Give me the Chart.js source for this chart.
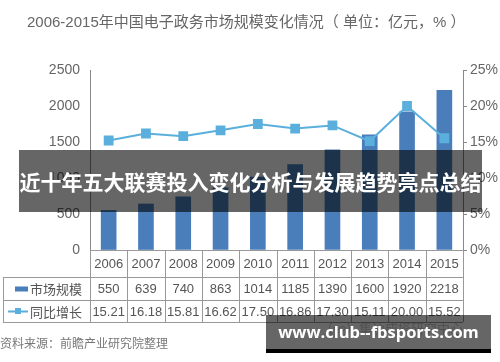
<!DOCTYPE html>
<html>
<head>
<meta charset="utf-8">
<script src="https://cdn.jsdelivr.net/npm/chart.js@4"></script>
<style>
  body { margin: 0; background: #fff; }
  #wrap { position: relative; width: 500px; height: 362px; overflow: hidden; font-family: "Liberation Sans", "Noto Sans CJK SC", sans-serif; }
  #titulo { position: absolute; left: 27px; top: 10px; font-size: 15px; color: #666; white-space: nowrap; }
  #fonte { position: absolute; left: 0; top: 334px; font-size: 12px; color: #777; white-space: nowrap; }
  #faixa { position: absolute; left: 19px; top: 150px; width: 463px; height: 62px; background: rgba(0,0,0,0.6);
    color: #fff; font-family: "Noto Sans CJK SC", sans-serif; font-weight: bold; font-size: 21px; line-height: 62px; text-align: center; white-space: nowrap; }
  #marca { position: absolute; left: 266px; top: 315px; width: 225px; height: 34px; background: rgba(0,0,0,0.6);
    border-bottom: 4px solid #000; color: #fff; font-family: "Open Sans", sans-serif; font-weight: bold; font-size: 16.5px; line-height: 34px; text-align: center; white-space: nowrap; }
  #marca2 { position: absolute; left: 320px; top: 318px; font-size: 13px; color: rgba(150,150,150,0.5); font-family: "Noto Sans CJK SC", sans-serif; }
</style>
</head>
<body>
<div id="wrap">
  <canvas id="grafico" width="500" height="362"></canvas>
  <div id="titulo">2006-2015年中国电子政务市场规模变化情况（ 单位：亿元，% ）</div>
  <div id="fonte">资料来源：前瞻产业研究院整理</div>
  <div id="marca2">（∽）集沙成塔研究中心</div>
  <div id="faixa">近十年五大联赛投入变化分析与发展趋势亮点总结</div>
  <div id="marca">www.club--fbsports.com</div>
</div>
<script>
const anos = ["2006","2007","2008","2009","2010","2011","2012","2013","2014","2015"];
const mercado = [550, 639, 740, 863, 1014, 1185, 1390, 1600, 1920, 2218];
const crescimento = [15.21, 16.18, 15.81, 16.62, 17.50, 16.86, 17.30, 15.11, 20.00, 15.52];
const nomeMercado = "市场规模";
const nomeCrescimento = "同比增长";

const COR_BARRA = "#4a7ebb";
const COR_LINHA = "#5aafdc";
const COR_TEXTO = "#555";
const COR_BORDA = "#999";

const tabela = {
  id: "tabela",
  afterDraw(chart) {
    const ctx = chart.ctx;
    const area = chart.chartArea;
    const x = chart.scales.x;
    const larg = (area.right - area.left) / anos.length;
    const y0 = area.bottom, y1 = 277, y2 = 300, y3 = 322, esq = 3;
    ctx.save();
    ctx.strokeStyle = COR_BORDA;
    ctx.lineWidth = 1;
    ctx.beginPath();
    ctx.moveTo(area.left, y0 + 0.5); ctx.lineTo(area.right, y0 + 0.5);
    [y1, y2, y3].forEach(function(yy) { ctx.moveTo(esq, yy + 0.5); ctx.lineTo(area.right, yy + 0.5); });
    ctx.moveTo(esq + 0.5, y1); ctx.lineTo(esq + 0.5, y3);
    for (let i = 0; i <= anos.length; i++) {
      const xx = Math.round(area.left + i * larg) + 0.5;
      ctx.moveTo(xx, y0); ctx.lineTo(xx, y3);
    }
    ctx.stroke();

    ctx.fillStyle = COR_TEXTO;
    ctx.font = "13px 'Liberation Sans', 'Noto Sans CJK SC', sans-serif";
    ctx.textAlign = "center";
    ctx.textBaseline = "middle";
    anos.forEach(function(a, i) {
      const cx = x.getPixelForValue(i);
      ctx.fillText(a, cx, (y0 + y1) / 2 + 1);
      ctx.fillText(String(mercado[i]), cx, (y1 + y2) / 2 + 1);
      ctx.fillText(crescimento[i].toFixed(2), cx, (y2 + y3) / 2 + 1);
    });

    // legendas na tabela
    ctx.fillStyle = COR_BARRA;
    ctx.fillRect(15, (y1 + y2) / 2 - 2, 13, 5);
    ctx.strokeStyle = COR_LINHA;
    ctx.lineWidth = 2;
    ctx.beginPath();
    ctx.moveTo(8, (y2 + y3) / 2 + 0.5); ctx.lineTo(28, (y2 + y3) / 2 + 0.5);
    ctx.stroke();
    ctx.fillStyle = COR_LINHA;
    ctx.fillRect(15, (y2 + y3) / 2 - 3, 6, 6);
    ctx.fillStyle = COR_TEXTO;
    ctx.textAlign = "left";
    ctx.font = "13px 'Noto Sans CJK SC', sans-serif";
    ctx.fillText(nomeMercado, 30, (y1 + y2) / 2 + 1);
    ctx.fillText(nomeCrescimento, 30, (y2 + y3) / 2 + 1);
    ctx.restore();
  }
};

new Chart(document.getElementById("grafico"), {
  type: "bar",
  data: {
    labels: anos,
    datasets: [
      { type: "line", label: nomeCrescimento, data: crescimento, yAxisID: "y2", borderColor: COR_LINHA, backgroundColor: COR_LINHA,
        borderWidth: 2, pointStyle: "rect", pointRadius: 5.5, tension: 0, order: 0 },
      { type: "bar", label: nomeMercado, data: mercado, yAxisID: "y", backgroundColor: COR_BARRA, barThickness: 15, order: 1 }
    ]
  },
  options: {
    responsive: false,
    animation: false,
    layout: { padding: { top: 70, bottom: 112, left: 0, right: 0 } },
    plugins: { legend: { display: false }, tooltip: { enabled: false } },
    scales: {
      x: { display: false, offset: true },
      y: {
        position: "left", min: 0, max: 2500,
        afterFit: function(s) { s.width = 90; },
        ticks: { stepSize: 500, color: "#666", font: { size: 14, family: "'Liberation Sans', sans-serif" }, padding: 10,
          callback: function(v) { return String(v); } },
        grid: { display: true, drawOnChartArea: false, drawTicks: false },
        border: { display: true, color: "#888" }
      },
      y2: {
        position: "right", min: 0, max: 25,
        afterFit: function(s) { s.width = 37; },
        ticks: { stepSize: 5, color: "#666", font: { size: 14, family: "'Liberation Sans', sans-serif" }, padding: 3,
          callback: function(v) { return v + "%"; } },
        grid: { display: true, drawOnChartArea: false, tickLength: 4, color: "#888" },
        border: { display: true, color: "#888" }
      }
    }
  },
  plugins: [tabela]
});
</script>
</body>
</html>
